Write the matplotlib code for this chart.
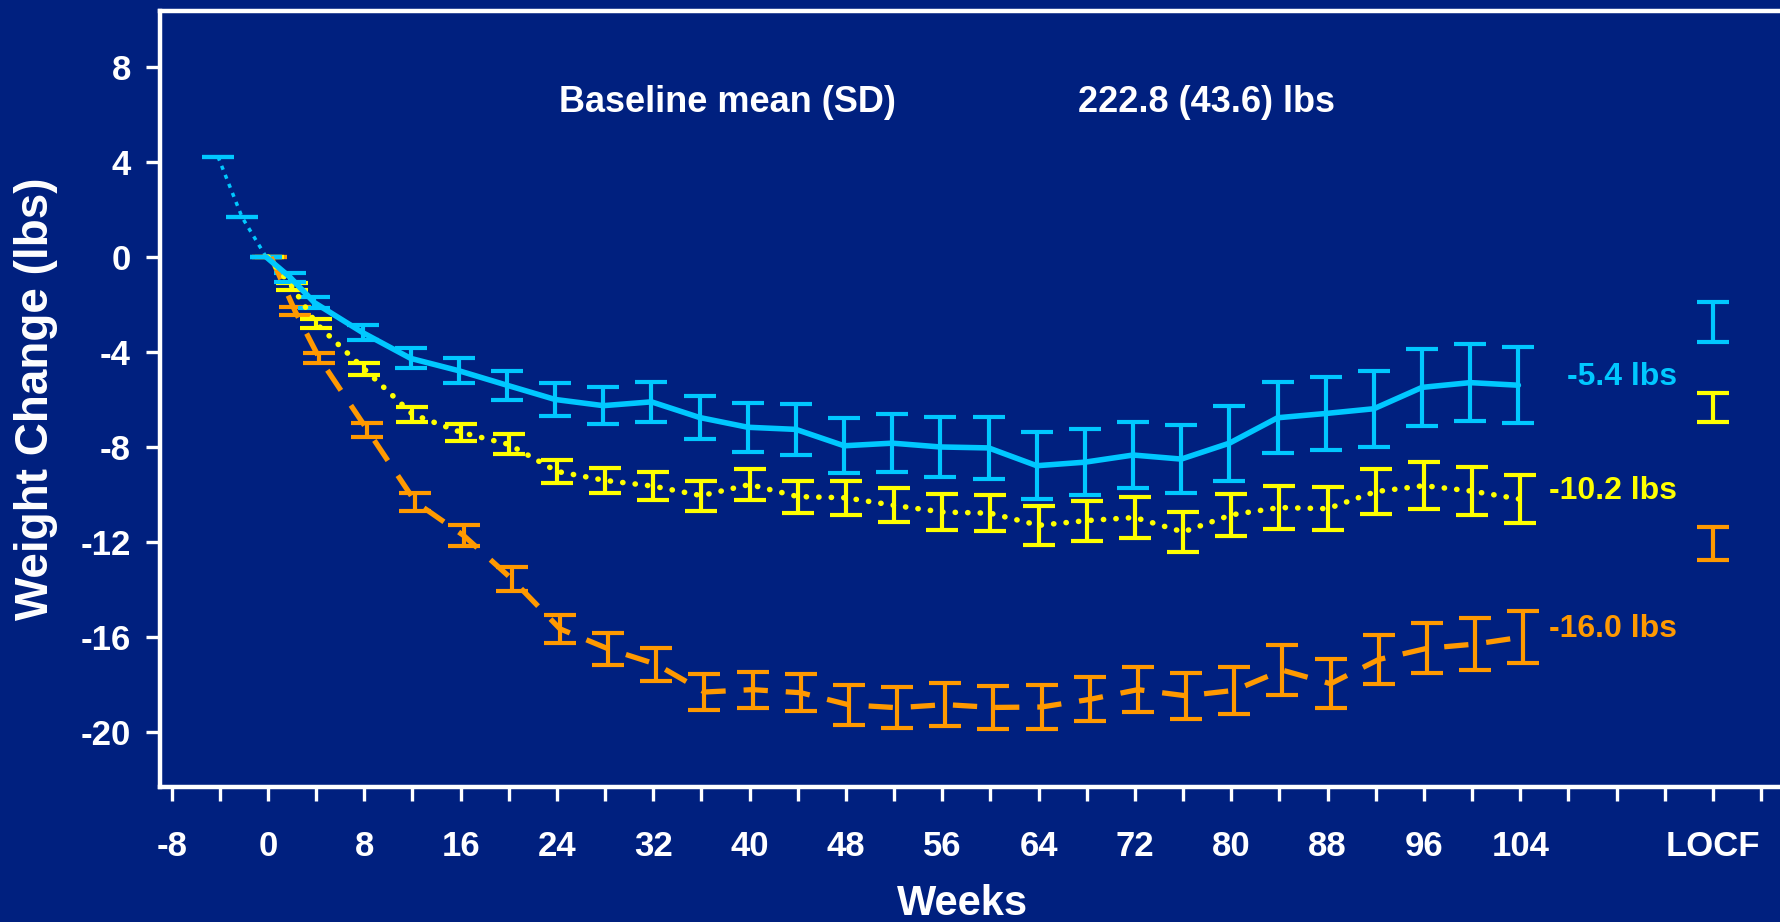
import matplotlib
matplotlib.use("Agg")
import matplotlib.pyplot as plt
import numpy as np

plt.rcParams['font.family'] = ['Liberation Sans', 'DejaVu Sans']
plt.rcParams['font.weight'] = 'bold'

# ---- data -------------------------------------------------------------
weeks = [0, 2, 4, 8, 12, 16, 20, 24, 28, 32, 36, 40, 44, 48, 52, 56, 60,
         64, 68, 72, 76, 80, 84, 88, 92, 96, 100, 104]

blue_mean = [0.0, -0.86, -1.92, -3.18, -4.27, -4.79, -5.40, -6.00, -6.26,
             -6.10, -6.76, -7.17, -7.26, -7.95, -7.84, -8.00, -8.04, -8.79,
             -8.64, -8.34, -8.51, -7.84, -6.77, -6.59, -6.39, -5.49, -5.29,
             -5.4]
blue_err = [0.0, 0.18, 0.24, 0.32, 0.42, 0.53, 0.62, 0.69, 0.77, 0.83, 0.92,
            1.03, 1.07, 1.16, 1.22, 1.28, 1.32, 1.41, 1.39, 1.40, 1.44, 1.58,
            1.50, 1.54, 1.60, 1.61, 1.61, 1.59]

yellow_mean = [0.0, -1.25, -2.80, -4.72, -6.62, -7.38, -7.89, -9.03, -9.41,
               -9.65, -10.05, -9.58, -10.09, -10.14, -10.46, -10.74, -10.79,
               -11.30, -11.10, -10.97, -11.58, -10.86, -10.55, -10.60, -9.88,
               -9.63, -9.86, -10.2]
yellow_err = [0.0, 0.14, 0.20, 0.25, 0.32, 0.35, 0.42, 0.48, 0.54, 0.58,
              0.63, 0.65, 0.67, 0.72, 0.72, 0.75, 0.77, 0.82, 0.84, 0.88,
              0.83, 0.88, 0.92, 0.90, 0.95, 0.98, 1.00, 1.00]

orange_mean = [0.0, -2.28, -4.25, -7.28, -10.32, -11.73, -13.56, -15.66,
               -16.50, -17.15, -18.32, -18.22, -18.35, -18.86, -18.98, -18.85,
               -18.97, -18.95, -18.63, -18.22, -18.48, -18.25, -17.40, -17.97,
               -16.95, -16.48, -16.30, -16.0]
orange_err = [0.0, 0.16, 0.20, 0.28, 0.37, 0.45, 0.50, 0.58, 0.68, 0.70,
              0.75, 0.76, 0.79, 0.84, 0.86, 0.90, 0.90, 0.93, 0.93, 0.95,
              0.97, 1.00, 1.04, 1.03, 1.04, 1.05, 1.09, 1.09]

# lead-in period before randomisation
lead_weeks = [-4, -2, 0]
lead_mean = [4.22, 1.67, 0.0]
lead_err = [0.0, 0.0, 0.0]

# last observation carried forward (blue, yellow, orange)
locf_week = 120
locf_mean = [-2.74, -6.34, -12.06]
locf_err = [0.86, 0.60, 0.70]

xtick_vals = [-8, 0, 8, 16, 24, 32, 40, 48, 56, 64, 72, 80, 88, 96, 104]
ytick_vals = [8, 4, 0, -4, -8, -12, -16, -20]

# ---- style ------------------------------------------------------------
BG = '#00207F'
BLUE = '#00C8FF'
YELLOW = '#FFFF00'
ORANGE = '#FF9900'
WHITE = 'white'

W, H = 1781, 922
fig = plt.figure(figsize=(W / 100, H / 100), dpi=100, facecolor=BG)
ax = fig.add_axes([160 / W, 135 / H, 1 - 160 / W, 776 / H])
ax.set_facecolor(BG)

ax.set_xlim(-8.97, 125.66)
ax.set_ylim(-22.32, 10.36)

eb_kw = dict(fmt='none', elinewidth=3.0, capsize=11.5, capthick=3.0)

series = [
    (orange_mean, orange_err, ORANGE, 3.8, dict(linestyle=(0, (4.6, 3.4)), dash_capstyle='butt'), 0.25),
    (yellow_mean, yellow_err, YELLOW, 4.0, dict(linestyle=(0, (0.05, 2.2)), dash_capstyle='round'), 0.0),
    (blue_mean, blue_err, BLUE, 4.0, dict(linestyle='-', solid_capstyle='round'), -0.15),
]

# lead-in (dotted blue)
ax.errorbar(np.array(lead_weeks) - 0.15, lead_mean, yerr=lead_err, ecolor=BLUE, zorder=3, **eb_kw)
ax.plot(np.array(lead_weeks) - 0.15, lead_mean, color=BLUE, lw=2.5,
        linestyle=(0, (1.2, 1.6)), zorder=3)

for mean, err, col, lw, ls, dx in series:
    x = np.array(weeks) + dx
    ax.errorbar(x, mean, yerr=err, ecolor=col, zorder=3, **eb_kw)
    ax.plot(x, mean, color=col, lw=lw, zorder=4, **ls)
    ax.text(117, mean[-1] + 0.35, f"{mean[-1]:.1f} lbs", color=col,
            fontsize=23, fontweight='bold', ha='right', va='center')

# LOCF bars
for m, e, col in zip(locf_mean, locf_err, [BLUE, YELLOW, ORANGE]):
    ax.errorbar([locf_week], [m], yerr=[e], ecolor=col, zorder=3, **eb_kw)

# ---- axes -------------------------------------------------------------
ax.spines['right'].set_visible(False)
for side in ['left', 'bottom', 'top']:
    ax.spines[side].set_color(WHITE)
    ax.spines[side].set_linewidth(3.2)

ax.set_xticks(np.arange(-8, 125, 4))
labels = []
for t in np.arange(-8, 125, 4):
    if t in xtick_vals:
        labels.append(str(t))
    elif t == locf_week:
        labels.append('LOCF')
    else:
        labels.append('')
ax.set_xticklabels(labels)
ax.set_yticks(ytick_vals)
ax.set_yticklabels([str(v) for v in ytick_vals])

ax.tick_params(axis='x', colors=WHITE, length=10, width=2.4, pad=21,
               labelsize=25, direction='out')
ax.tick_params(axis='y', colors=WHITE, length=10, width=2.4, pad=11,
               labelsize=25, direction='out')
for lab in ax.get_xticklabels() + ax.get_yticklabels():
    lab.set_fontweight('bold')

fig.text(36 / W, 1 - 399 / H, 'Weight Change (lbs)', rotation=90,
         color=WHITE, fontsize=33, fontweight='bold', ha='center', va='center')
fig.text(963 / W, 1 - 904 / H, 'Weeks', color=WHITE, fontsize=30,
         fontweight='bold', ha='center', va='center')

fig.text(727 / W, 1 - 103 / H, 'Baseline mean (SD)', color=WHITE,
         fontsize=26, fontweight='bold', ha='center', va='center')
fig.text(1206 / W, 1 - 103 / H, '222.8 (43.6) lbs', color=WHITE,
         fontsize=26, fontweight='bold', ha='center', va='center')

fig.savefig('out.png', dpi=100, facecolor=BG)
